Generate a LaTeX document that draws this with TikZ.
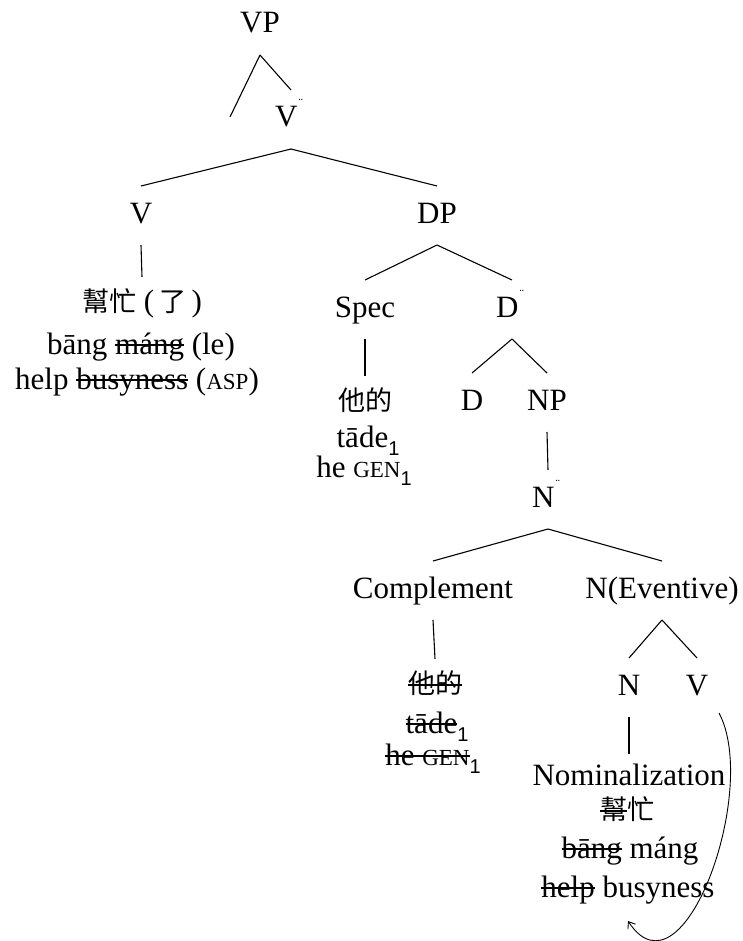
\documentclass[tikz,border=0pt]{standalone}
\usepackage{fontspec}
\setmainfont{Liberation Serif}
\setsansfont{Liberation Sans}
\newfontfamily\cjk{Noto Sans CJK TC}
\usetikzlibrary{arrows.meta}
% Chinese text
\newcommand\zh[1]{{\fontsize{27}{27}\cjk #1}}
% small-capital gloss labels
\newcommand\gl[1]{{\fontsize{23}{23}\selectfont #1}}
% sans-serif index subscript
\newcommand\ix[1]{\raisebox{-8pt}{\fontsize{20}{20}\sffamily #1}}
% double-bar mark after a category label
\newcommand\bbar{\kern1pt\raisebox{19pt}{\fontsize{13}{13}\selectfont ¨}\kern4pt}
% struck-out text (deleted copies)
\newsavebox\strkbox
\newcommand\strk[1]{\sbox\strkbox{#1}\rlap{\usebox\strkbox}\rule[0.27em]{\wd\strkbox}{1.3pt}}
\tikzset{
  cat/.style={anchor=base, inner sep=0pt, text height=15pt, text depth=0pt,
    outer ysep=22pt, font=\fontsize{31}{36}\selectfont},
  zhleaf/.style={anchor=base, inner sep=0pt, text height=15pt, text depth=0pt,
    outer ysep=19pt, font=\fontsize{31}{36}\selectfont},
  gloss/.style={anchor=base, inner sep=0pt, font=\fontsize{31}{36}\selectfont},
  branch/.style={line width=1.1pt},
}
\begin{document}
\begin{tikzpicture}[x=1pt, y=-1pt]
\useasboundingbox (0,0) rectangle (743,941);

% categories
\node[cat] (vp)   at (260,33)  {VP};
\coordinate (vpl) at (230,117);
\node[cat] (vbar) at (291,127) {V\bbar};
\node[cat] (v)    at (141,223) {V};
\node[cat] (dp)   at (437,223) {DP};
\node[cat] (spec) at (365,317) {Spec};
\node[cat] (dbar) at (512,317) {D\bbar};
\node[cat] (d)    at (472,410) {D};
\node[cat] (np)   at (547,410) {NP};
\node[cat] (nbar) at (548,507) {N\bbar};
\node[cat] (comp) at (433,598) {Complement};
\node[cat] (nev)  at (662,598) {N(Eventive)};
\node[cat] (n)    at (629,695) {N};
\node[cat] (vev)  at (697,695) {V};

% verb leaf
\node[zhleaf] (la) at (142,311) {\zh{幫忙} (\,\zh{了}\,)};
\node[gloss]  (lb) at (141,354) {bāng \strk{máng} (le)};
\node[gloss]  (lc) at (137,389) {help \strk{busyness} (\gl{ASP})};

% specifier leaf
\node[zhleaf] (sa) at (365,410) {\zh{他的}};
\node[gloss]  (sb) at (368,447) {tāde\ix{1}};
\node[gloss]  (sc) at (364,477) {he \gl{GEN}\ix{1}};

% complement leaf (deleted copy)
\node[zhleaf] (ca) at (435,693) {\zh{\strk{他的}}};
\node[gloss]  (cb) at (437,733) {\strk{tāde}\ix{1}};
\node[gloss]  (cc) at (433,765) {\strk{he \gl{GEN}}\ix{1}};

% nominalization leaf
\node[cat, outer ysep=16pt] (nom) at (629,785) {Nominalization};
\node[gloss] (ba) at (627,819) {\zh{\strk{幫}忙}};
\node[gloss] (bb) at (630,858) {\strk{bāng} máng};
\node[gloss] (bc) at (628,897) {\strk{help} busyness};

% branches
\draw[branch] (vp.south) -- (vpl);
\draw[branch] (vp.south) -- (vbar.north);
\draw[branch] (vbar.south) -- (v.north);
\draw[branch] (vbar.south) -- (dp.north);
\draw[branch] (v.south) -- (la.north);
\draw[branch] (dp.south) -- (spec.north);
\draw[branch] (dp.south) -- (dbar.north);
\draw[branch] (spec.south) -- (sa.north);
\draw[branch] (dbar.south) -- (d.north);
\draw[branch] (dbar.south) -- (np.north);
\draw[branch] (np.south) -- (nbar.north);
\draw[branch] (nbar.south) -- (comp.north);
\draw[branch] (nbar.south) -- (nev.north);
\draw[branch] (comp.south) -- (ca.north);
\draw[branch] (nev.south) -- (n.north);
\draw[branch] (nev.south) -- (vev.north);
\draw[branch] (n.south) -- (nom.north);

% movement of the verb
\draw[line width=0.9pt, -{Straight Barb[length=6pt,width=9pt]}]
  ([xshift=22pt,yshift=-18pt]vev.base) .. controls (760,790) and (683,1005) ..
  ([yshift=-24pt]bc.base);
\end{tikzpicture}
\end{document}
